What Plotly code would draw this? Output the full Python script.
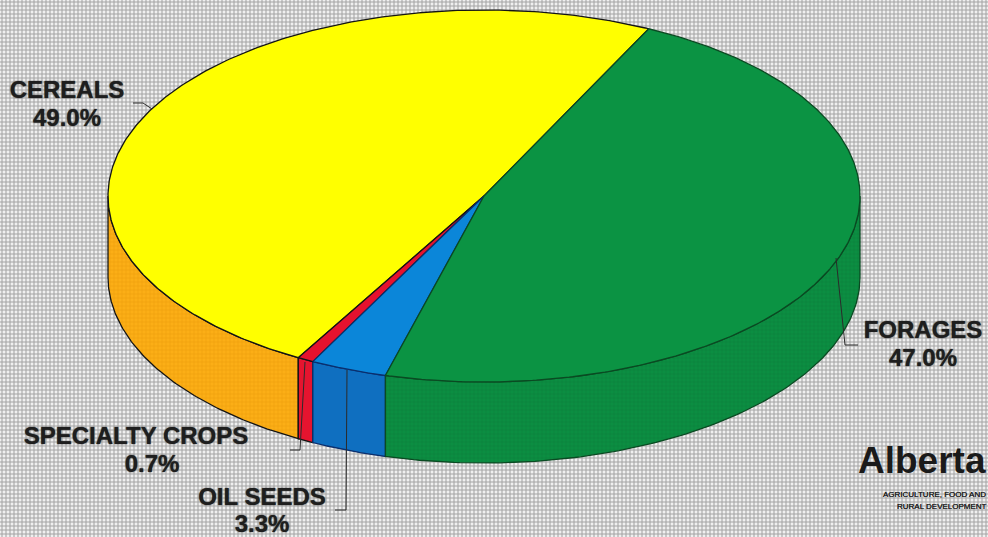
import numpy as np
import plotly.graph_objects as go

# --- data ---
categories = ["CEREALS", "SPECIALTY CROPS", "OIL SEEDS", "FORAGES"]
shares = [49.0, 0.7, 3.3, 47.0]

# --- styles / geometry ---
top_colors = ["#FFFF00", "#E5122E", "#0B86D9", "#0B9343"]
rim_colors = ["#FCAE16", "#E5142F", "#0F6FC0", "#0B8E42"]
edge_colors = ["#141414", "#141414", "#0A2F6E", "#0A4A22"]
CX, CY, RX, RY, DEPTH = 484, 196, 376, 186, 81
START_DEG = 64.0
W, H = 988, 537

def px(t): return CX + RX * np.cos(np.radians(t))
def py(t, d=0): return CY - RY * np.sin(np.radians(t)) + d

fig = go.Figure()

# dotted halftone page background
fig.add_trace(go.Scatter(
    x=[0, W, W, 0, 0], y=[0, 0, H, H, 0], mode="lines", fill="toself",
    line=dict(width=0), hoverinfo="skip",
    fillpattern=dict(shape="+", size=4, solidity=0.45, fgcolor="#555555", bgcolor="#f0f0f0"),
))

edges = START_DEG + np.concatenate([[0], np.cumsum(shares)]) * 3.6

# rim first (only front half of the disc is visible)
for i in range(len(shares)):
    a, b = max(edges[i], 180), min(edges[i + 1], 360)
    if b <= a:
        continue
    t = np.linspace(a, b, 120)
    xs = np.concatenate([px(t), px(t[::-1]), [px(a)]])
    ys = np.concatenate([py(t), py(t[::-1], DEPTH), [py(a)]])
    patt = None
    if i in (0, 3):
        patt = dict(shape="+", size=4, solidity=0.25,
                    fgcolor="#D98A00" if i == 0 else "#0A6E34", bgcolor=rim_colors[i])
    fig.add_trace(go.Scatter(
        x=xs, y=ys, mode="lines", fill="toself", fillcolor=rim_colors[i],
        fillpattern=patt, line=dict(color=edge_colors[i], width=1.3), hoverinfo="skip"))

# top slices
for i in range(len(shares)):
    t = np.linspace(edges[i], edges[i + 1], 300)
    xs = np.concatenate([[CX], px(t), [CX]])
    ys = np.concatenate([[CY], py(t), [CY]])
    fig.add_trace(go.Scatter(
        x=xs, y=ys, mode="lines", fill="toself", fillcolor=top_colors[i],
        line=dict(color=edge_colors[i], width=1.3), hoverinfo="skip"))

# leader lines
lead_x = [133, 143, 152, None, 305, 300, 290, None, 347, 346, 335, None, 836, 845, 858]
lead_y = [103, 103, 109, None, 362, 450, 450, None, 370, 510, 510, None, 258, 345, 345]
fig.add_trace(go.Scatter(x=lead_x, y=lead_y, mode="lines",
                         line=dict(color="#2b2b2b", width=1), hoverinfo="skip"))

# labels
name_x = [67, 136, 262, 923]
name_y = [92, 438, 499, 332]
pct_x = [67, 152, 262, 923]
pct_y = [120, 466, 526, 360]
lab_font = dict(family="Liberation Sans", size=24, color="#1e1e1e", shadow="0 0 1.5px #1e1e1e")
fig.add_trace(go.Scatter(x=name_x, y=name_y, mode="text", text=[f"<b>{c}</b>" for c in categories],
                         textposition="middle center", textfont=lab_font, hoverinfo="skip"))
fig.add_trace(go.Scatter(x=pct_x, y=pct_y, mode="text", text=[f"<b>{v:.1f}%</b>" for v in shares],
                         textposition="middle center", textfont=lab_font, hoverinfo="skip"))

# logo
fig.add_trace(go.Scatter(x=[858], y=[464], mode="text", text=["<b>Alberta</b>"], textposition="middle right",
                         textfont=dict(family="Liberation Sans", size=37, color="#1a1a1a"), hoverinfo="skip"))
fig.add_trace(go.Scatter(x=[883, 897], y=[495, 507], mode="text",
                         text=["AGRICULTURE, FOOD AND", "RURAL DEVELOPMENT"], textposition="middle right",
                         textfont=dict(family="Liberation Sans", size=8, color="#222222",
                                       shadow="0 0 0.5px #222222"), hoverinfo="skip"))

fig.update_layout(
    width=W, height=H, margin=dict(l=0, r=0, t=0, b=0), showlegend=False,
    paper_bgcolor="#f0f0f0", plot_bgcolor="#f0f0f0",
    xaxis=dict(range=[0, W], visible=False, fixedrange=True),
    yaxis=dict(range=[H, 0], visible=False, fixedrange=True),
)
fig.write_html("out.html", config=dict(displayModeBar=False),
               post_script="document.body.style.margin='0';document.documentElement.style.overflow='hidden';")
